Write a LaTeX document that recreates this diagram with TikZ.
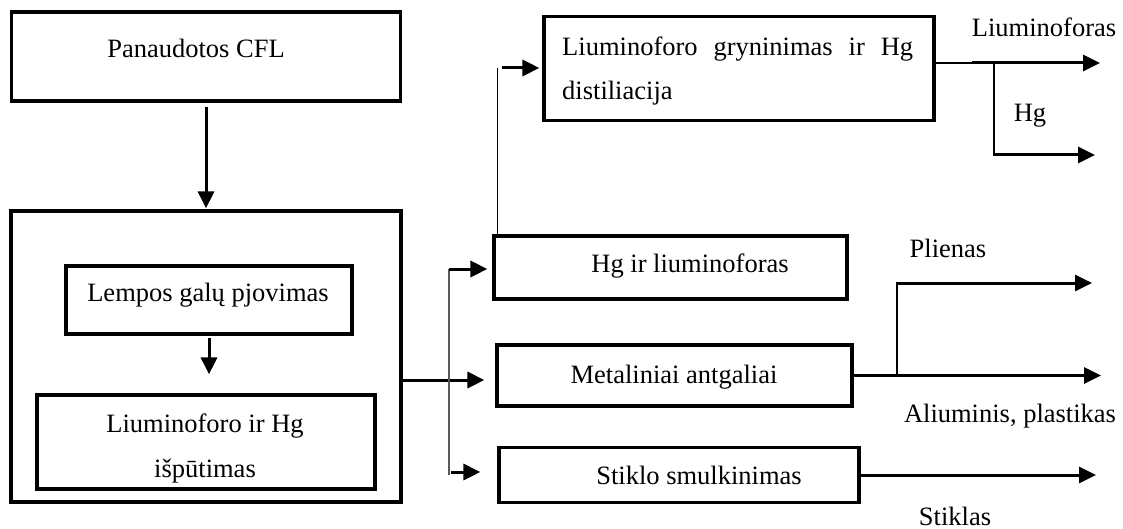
\documentclass[tikz,border=0pt]{standalone}
\usepackage{fontspec}
\setmainfont{Liberation Serif}
\usetikzlibrary{arrows.meta}
\begin{document}
\begin{tikzpicture}[x=1pt,y=-1pt,
 box/.style={draw, line width=3.2pt, inner sep=0pt},
 lbl/.style={inner sep=0pt, font=\fontsize{26.5}{32}\selectfont, text height=18pt, text depth=6pt},
 conn/.style={line width=3pt, -{Triangle[length=17pt,width=16pt]}},
 thinline/.style={line width=1.4pt},
 grayline/.style={line width=2pt, draw=black!65}]
\useasboundingbox (0,0) rectangle (1123,529);
% boxes
\node[box, minimum width=389.5pt, minimum height=89pt] (cfl) at (206,56.5) {};
\node[box, minimum width=390pt, minimum height=291pt] (big) at (206,356.5) {};
\node[box, minimum width=286pt, minimum height=68pt] (cut) at (209,300) {};
\node[box, minimum width=338pt, minimum height=94pt] (blow) at (206,442) {};
\node[box, minimum width=353pt, minimum height=63pt] (hgl) at (670.5,267.5) {};
\node[box, minimum width=355pt, minimum height=61pt] (met) at (674.5,375.5) {};
\node[box, minimum width=360pt, minimum height=55pt] (gla) at (679,475) {};
\node[box, minimum width=390pt, minimum height=104.5pt] (gry) at (739,68.5) {};
% texts
\node[lbl] (tcfl) at (196,52) {Panaudotos CFL};
\node[lbl] (tcut) at (208,295) {Lempos galų pjovimas};
\node[lbl] (tblow1) at (205,426) {Liuminoforo ir Hg};
\node[lbl] (tblow2) at (205,471) {išpūtimas};
\node[lbl, anchor=west] (tgry1) at (562,50) {\makebox[351pt][s]{Liuminoforo gryninimas ir Hg}};
\node[lbl, anchor=west] (tgry2) at (562,94) {distiliacija};
\node[lbl] (thgl) at (690,266) {Hg ir liuminoforas};
\node[lbl] (tmet) at (674,377) {Metaliniai antgaliai};
\node[lbl] (tgla) at (699,478) {Stiklo smulkinimas};
\node[lbl] (lliu) at (1044,31) {Liuminoforas};
\node[lbl] (lhg) at (1030,116) {Hg};
\node[lbl] (lpli) at (948,251) {Plienas};
\node[lbl] (lalu) at (1010,416) {Aliuminis, plastikas};
\node[lbl] (lsti) at (955,519) {Stiklas};
% junction coordinates
\coordinate (ja) at (449,269);
\coordinate (jb) at (449,475);
\coordinate (jc) at (451,472);
\coordinate (jd) at (497.5,237);
\coordinate (je) at (497.5,68);
\coordinate (g1) at (972,63);
\coordinate (g2) at (994,63);
\coordinate (o1) at (1100,63);
\coordinate (o2) at (1095,155);
\coordinate (m1) at (897,375.5);
\coordinate (m2) at (897,283);
\coordinate (o3) at (1092,283);
\coordinate (o4) at (1101,375.5);
\coordinate (o5) at (1096,475);
% connectors
\draw[conn, shorten <=4pt, shorten >=1pt] (cfl.south) -- (big.north);
\draw[conn, shorten <=2pt, shorten >=19pt] (cut.south) -- (cut.south |- blow.north);
\draw[conn, shorten >=11pt] ([yshift=-23.5pt]big.east) -- ([yshift=-23.5pt]big.east -| met.west);
\draw[grayline] (ja) -- (jb);
\draw[conn, shorten >=5pt] (ja) -- (ja -| hgl.west);
\draw[conn, shorten >=17pt] (jc) -- (jc -| gla.west);
\draw[thinline] (jd) -- (je);
\draw[conn, shorten <=4pt, shorten >=3pt] (je) -- (je -| gry.west);
\draw[thinline] (gry.east |- g1) -- (g1);
\draw[conn] (g1) -- (o1);
\draw[line width=1.8pt] (g2) -- (g2 |- o2);
\draw[conn] ([xshift=-0.9pt]g2 |- o2) -- (o2);
\draw[conn] (met.east) -- (o4);
\draw[thinline] (m1) -- (m2);
\draw[conn] ([xshift=-0.7pt]m2) -- (o3);
\draw[conn] (gla.east) -- (o5);
\end{tikzpicture}
\end{document}
